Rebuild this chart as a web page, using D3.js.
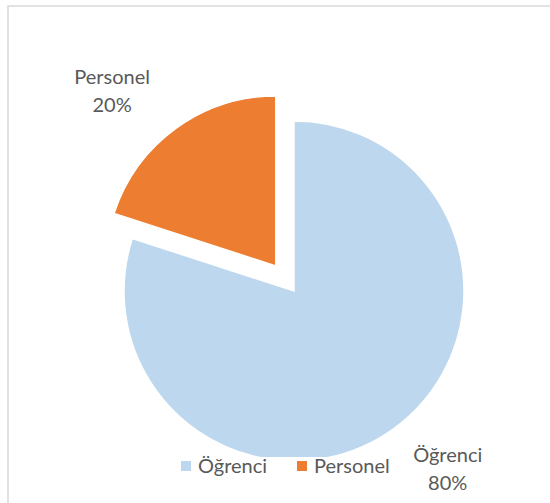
<!DOCTYPE html>
<html>
<head>
<meta charset="utf-8">
<script src="https://cdn.jsdelivr.net/npm/d3@7"></script>
<style>
  html, body { margin: 0; padding: 0; background: #fff; }
  svg { display: block; }
</style>
</head>
<body>
<script>
const categories = ["Öğrenci", "Personel"];
const values = [80, 20];
const colors = ["#BDD7EE", "#ED7D31"];
const percentLabels = ["80%", "20%"];

const width = 550;
const height = 503;
const cx = 294, cy = 291;
const radius = 170;
const explode = [0, 31];

const svg = d3.select("body")
    .append("svg")
      .attr("width", width)
      .attr("height", height);

// chart border (runs off the right and bottom edges)
svg.append("rect")
    .attr("x", 8)
    .attr("y", 6)
    .attr("width", width + 20)
    .attr("height", height + 20)
    .attr("fill", "#fff")
    .attr("stroke", "#d9d9d9")
    .attr("stroke-width", 1.5);

const data = categories.map((c, i) => ({name: c, value: values[i], color: colors[i], pct: percentLabels[i], explode: explode[i]}));

const pie = d3.pie()
    .sort(null)
    .value(d => d.value)
    .startAngle(0)
    .endAngle(2 * Math.PI);

const arc = d3.arc()
    .innerRadius(0)
    .outerRadius(radius);

const labelArc = d3.arc()
    .innerRadius(236)
    .outerRadius(236);

const arcs = pie(data);

const g = svg.append("g")
    .attr("transform", "translate(" + cx + "," + cy + ")");

const offset = function (d) {
  const mid = (d.startAngle + d.endAngle) / 2;
  return [Math.sin(mid) * d.data.explode, -Math.cos(mid) * d.data.explode];
};

g.selectAll("path.slice")
    .data(arcs)
    .enter()
    .append("path")
      .attr("class", "slice")
      .attr("d", arc)
      .attr("transform", d => "translate(" + offset(d) + ")")
      .attr("fill", d => d.data.color)
      .attr("stroke", "#fff")
      .attr("stroke-width", 1.5);

// label nudges, Excel best-fit style
const nudge = [[15, -13], [-25, 16]];

const labels = g.selectAll("text.lbl")
    .data(arcs)
    .enter()
    .append("text")
      .attr("class", "lbl")
      .attr("text-anchor", "middle")
      .attr("font-family", "Lato, 'Open Sans', sans-serif")
      .attr("font-size", 20)
      .attr("fill", "#595959")
      .attr("transform", function (d, i) {
        const c = labelArc.centroid(d);
        const o = offset(d);
        return "translate(" + (c[0] + o[0] + nudge[i][0]) + "," + (c[1] + o[1] + nudge[i][1]) + ")";
      });

labels.append("tspan")
    .attr("x", 0)
    .attr("y", -7)
    .text(d => d.data.name);

labels.append("tspan")
    .attr("x", 0)
    .attr("y", 21)
    .text(d => d.data.pct);

// legend
const legend = svg.append("g");

legend.append("rect")
    .attr("x", 176)
    .attr("y", 457)
    .attr("width", 226)
    .attr("height", 22)
    .attr("fill", "#fff");

const legendX = [181, 297];

const items = legend.selectAll("g.item")
    .data(data)
    .enter()
    .append("g")
      .attr("class", "item")
      .attr("transform", (d, i) => "translate(" + legendX[i] + ",461)");

items.append("rect")
    .attr("width", 10)
    .attr("height", 10)
    .attr("fill", d => d.color);

items.append("text")
    .attr("x", 17)
    .attr("y", 12)
    .attr("font-family", "Lato, 'Open Sans', sans-serif")
    .attr("font-size", 20)
    .attr("fill", "#595959")
    .text(d => d.name);
</script>
</body>
</html>
